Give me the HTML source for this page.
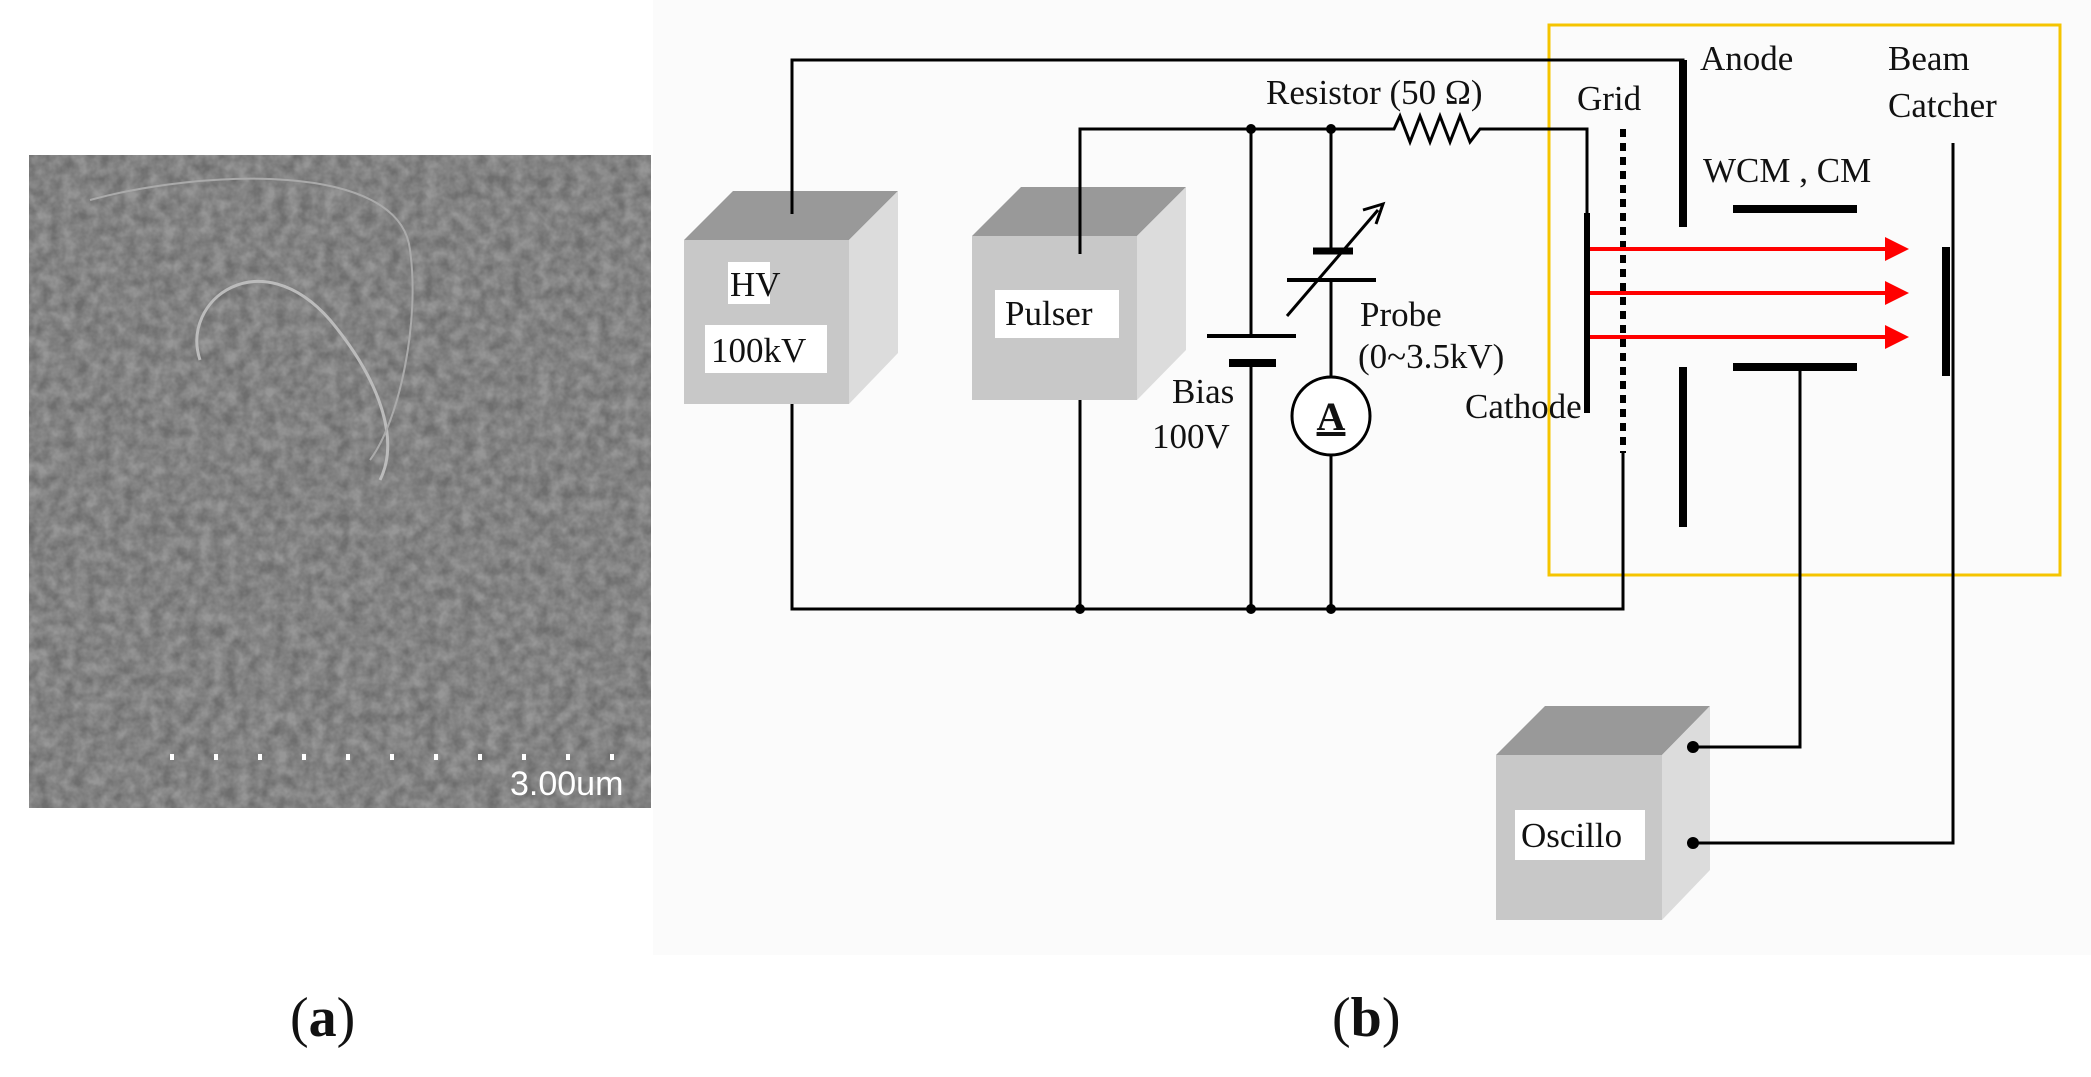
<!DOCTYPE html>
<html><head><meta charset="utf-8"><style>
html,body{margin:0;padding:0;background:#fff;}
svg{display:block;}
text{font-family:"Liberation Serif",serif;fill:#111;}
</style></head><body>
<svg width="2091" height="1077" viewBox="0 0 2091 1077" xmlns="http://www.w3.org/2000/svg">
<defs>
<filter id="n" filterUnits="userSpaceOnUse" x="29" y="155" width="622" height="653"><feTurbulence type="fractalNoise" baseFrequency="0.08" numOctaves="3" seed="4"/><feColorMatrix type="matrix" values="0 0 0 0 0.45 0 0 0 0 0.45 0 0 0 0 0.45 0 0 0 1.6 -0.3"/></filter>
<clipPath id="c"><rect x="29" y="155" width="622" height="653"/></clipPath>
<marker id="ar" markerWidth="6" markerHeight="6" refX="5" refY="3" orient="auto" markerUnits="strokeWidth"><path d="M0,0 L6,3 L0,6 z" fill="#f00"/></marker>
</defs>
<!-- SEM -->
<rect x="29" y="155" width="622" height="653" fill="#6e6e6e"/>
<rect x="29" y="155" width="622" height="653" filter="url(#n)" opacity="0.6" clip-path="url(#c)"/>
<path d="M200,360 C180,300 260,240 330,320 C380,380 400,440 380,480" stroke="#bbb" stroke-width="3" fill="none"/>
<path d="M90,200 C200,170 400,160 410,250 C420,320 400,420 370,460" stroke="#aaa" stroke-width="2" fill="none"/>
<line x1="170" y1="757" x2="627" y2="757" stroke="#fff" stroke-width="6" stroke-dasharray="4,40"/>
<text x="510" y="795" font-size="34" style="fill:#fff;font-family:'Liberation Sans',sans-serif">3.00um</text>
<!-- panel bg -->
<rect x="653" y="0" width="1438" height="955" fill="#fbfbfb"/>
<!-- yellow box -->
<rect x="1549" y="25" width="511" height="550" fill="none" stroke="#f5c400" stroke-width="3"/>
<!-- boxes -->
<g>
<polygon points="684,240 733,191 898,191 849,240" fill="#999"/>
<polygon points="849,240 898,191 898,353 849,404" fill="#dcdcdc"/>
<rect x="684" y="240" width="165" height="164" fill="#c8c8c8"/>
<polygon points="972,236 1021,187 1186,187 1137,236" fill="#999"/>
<polygon points="1137,236 1186,187 1186,350 1137,400" fill="#dcdcdc"/>
<rect x="972" y="236" width="165" height="164" fill="#c8c8c8"/>
<polygon points="1496,755 1545,706 1710,706 1662,755" fill="#999"/>
<polygon points="1662,755 1710,706 1710,870 1662,920" fill="#dcdcdc"/>
<rect x="1496" y="755" width="166" height="165" fill="#c8c8c8"/>
<rect x="728" y="262" width="42" height="42" fill="#fff"/>
<rect x="705" y="325" width="122" height="48" fill="#fff"/>
<rect x="995" y="290" width="124" height="48" fill="#fff"/>
<rect x="1515" y="810" width="130" height="50" fill="#fff"/>
</g>
<!-- wires -->
<g stroke="#000" stroke-width="3" fill="none">
<polyline points="792,214 792,60 1683,60 1683,227"/>
<polyline points="1080,254 1080,129 1394,129 1400,116 1410,142 1420,116 1430,142 1440,116 1450,142 1460,116 1470,142 1480,129 1587,129 1587,213"/>
<polyline points="792,404 792,609 1623,609 1623,453"/>
<line x1="1080" y1="400" x2="1080" y2="609"/>
<line x1="1251" y1="129" x2="1251" y2="336"/>
<line x1="1251" y1="363" x2="1251" y2="609"/>
<line x1="1331" y1="129" x2="1331" y2="251"/>
<line x1="1331" y1="280" x2="1331" y2="376"/>
<line x1="1331" y1="456" x2="1331" y2="609"/>
<polyline points="1800,367 1800,747 1693,747"/>
<polyline points="1953,143 1953,843 1693,843"/>
</g>
<g stroke="#000" fill="none">
<line x1="1207" y1="336" x2="1296" y2="336" stroke-width="4"/>
<line x1="1229" y1="363" x2="1276" y2="363" stroke-width="8"/>
<line x1="1313" y1="251" x2="1353" y2="251" stroke-width="7"/>
<line x1="1287" y1="280" x2="1376" y2="280" stroke-width="4"/>
<line x1="1287" y1="316" x2="1378" y2="210" stroke-width="3"/>
<path d="M1363,210 L1383,204 L1376,224" stroke-width="3"/>
<circle cx="1331" cy="416" r="39" stroke-width="3" fill="#fff"/>
<line x1="1587" y1="213" x2="1587" y2="413" stroke-width="6"/>
<line x1="1623" y1="129" x2="1623" y2="453" stroke-width="6" stroke-dasharray="8,6"/>
<line x1="1683" y1="60" x2="1683" y2="227" stroke-width="8"/>
<line x1="1683" y1="367" x2="1683" y2="527" stroke-width="8"/>
<line x1="1733" y1="209" x2="1857" y2="209" stroke-width="8"/>
<line x1="1733" y1="367" x2="1857" y2="367" stroke-width="8"/>
<line x1="1946" y1="247" x2="1946" y2="376" stroke-width="8"/>
</g>
<text x="1331" y="430" font-size="40" font-weight="bold" text-anchor="middle" text-decoration="underline">A</text>
<g fill="#000">
<circle cx="1080" cy="609" r="5"/><circle cx="1251" cy="609" r="5"/><circle cx="1331" cy="609" r="5"/>
<circle cx="1251" cy="129" r="5"/><circle cx="1331" cy="129" r="5"/>
<circle cx="1693" cy="747" r="6"/><circle cx="1693" cy="843" r="6"/>
</g>
<!-- red arrows -->
<g stroke="#f00" stroke-width="4">
<line x1="1590" y1="249" x2="1905" y2="249" marker-end="url(#ar)"/>
<line x1="1590" y1="293" x2="1905" y2="293" marker-end="url(#ar)"/>
<line x1="1590" y1="337" x2="1905" y2="337" marker-end="url(#ar)"/>
</g>
<g font-size="35">
<text x="730" y="296">HV</text>
<text x="711" y="362">100kV</text>
<text x="1005" y="325">Pulser</text>
<text x="1521" y="847">Oscillo</text>
<text x="1266" y="104">Resistor (50 Ω)</text>
<text x="1577" y="110">Grid</text>
<text x="1700" y="70">Anode</text>
<text x="1888" y="70">Beam</text>
<text x="1888" y="117">Catcher</text>
<text x="1703" y="182">WCM , CM</text>
<text x="1360" y="326">Probe</text>
<text x="1358" y="368">(0~3.5kV)</text>
<text x="1172" y="403">Bias</text>
<text x="1152" y="448">100V</text>
<text x="1465" y="418">Cathode</text>
</g>
<text x="290" y="1036" font-size="56">(<tspan font-weight="bold">a</tspan>)</text>
<text x="1332" y="1036" font-size="56">(<tspan font-weight="bold">b</tspan>)</text>
</svg>
</body></html>
